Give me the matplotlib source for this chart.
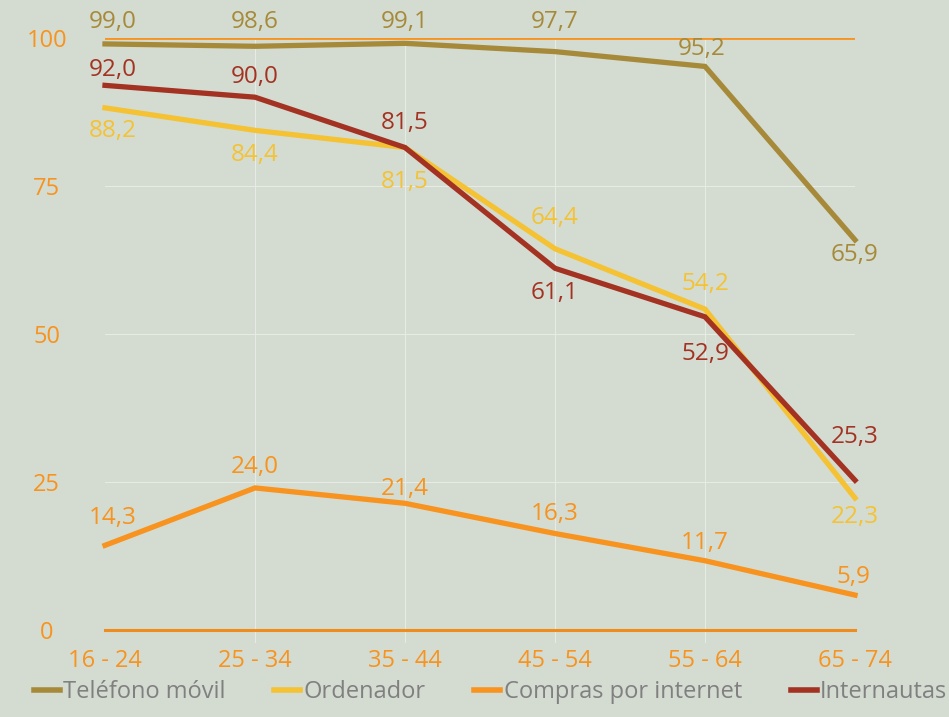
import matplotlib

matplotlib.use("Agg")
import matplotlib.pyplot as plt

# %% Data
grupos = ["16 - 24", "25 - 34", "35 - 44", "45 - 54", "55 - 64", "65 - 74"]
telefono = [99.0, 98.6, 99.1, 97.7, 95.2, 65.9]
ordenador = [88.2, 84.4, 81.5, 64.4, 54.2, 22.3]
compras = [14.3, 24.0, 21.4, 16.3, 11.7, 5.9]
internautas = [92.0, 90.0, 81.5, 61.1, 52.9, 25.3]

BG = "#D4DCD1"
ORANGE = "#F7931E"
C_TEL = "#A68A3A"
C_ORD = "#F4C233"
C_COM = "#F7931E"
C_INT = "#A33222"

# label offsets in pixels (dx, dy) for each point
off_tel = [(8, 22), (0, 24), (0, 21), (0, 30), (-3, 17), (0, -15)]
off_ord = [(8, -23), (0, -25), (0, -34), (0, 31), (0, 25), (0, -19)]
off_int = [(8, 15), (0, 20), (0, 25), (0, -25), (0, -37), (0, 43)]
off_com = [(8, 27), (0, 21), (0, 14), (0, 20), (0, 18), (-2, 18)]

plt.rcParams["font.family"] = ["Open Sans", "DejaVu Sans"]

fig = plt.figure(figsize=(9.49, 7.17), dpi=100, facecolor=BG)
ax = fig.add_axes([105 / 949, 87 / 717, 750 / 949, 592 / 717], facecolor=BG)

x = list(range(len(grupos)))

ax.set_xlim(0, 5)
ax.set_ylim(0, 100)
for s in ax.spines.values():
    s.set_visible(False)

# grid
for yv in [25, 50, 75]:
    ax.axhline(yv, color="#E6EBE3", lw=0.8, zorder=1)
for xv in x[1:-1]:
    ax.axvline(xv, color="#E6EBE3", lw=0.8, zorder=1, ymin=-0.02, clip_on=False)
ax.axhline(100, color=ORANGE, lw=2, zorder=2)
ax.axhline(0, color="#EE8C1E", lw=2.2, zorder=2, clip_on=False)

series = [
    ("Teléfono móvil", telefono, C_TEL, off_tel),
    ("Ordenador", ordenador, C_ORD, off_ord),
    ("Compras por internet", compras, C_COM, off_com),
    ("Internautas", internautas, C_INT, off_int),
]
for i, (name, vals, col, offs) in enumerate(series):
    ax.plot(x, vals, color=col, lw=3.8, label=name, zorder=3 + i, clip_on=False,
            solid_joinstyle="miter")
    for xi, v, (dx, dy) in zip(x, vals, offs):
        ax.annotate(f"{v:.1f}".replace(".", ","), (xi, v), xytext=(dx * 0.72, dy * 0.72),
                    textcoords="offset points", ha="center", va="center",
                    color=col, fontsize=17.5, zorder=10, annotation_clip=False)

ax.set_xticks(x)
ax.set_xticklabels(grupos)
ax.set_yticks([0, 25, 50, 75, 100])
ax.tick_params(axis="both", length=0, colors=ORANGE, labelsize=17)
ax.tick_params(axis="x", pad=14)
ax.tick_params(axis="y", pad=42)
for t in ax.get_yticklabels():
    t.set_horizontalalignment("center")

leg = fig.legend(loc="lower center", bbox_to_anchor=(0.517, -0.012), ncol=4, frameon=False,
                 fontsize=17, handlelength=1.1, handletextpad=0.15, columnspacing=2.05,
                 labelcolor="#808080")
for h in leg.legend_handles:
    h.set_linewidth(4)

fig.savefig("out.png", dpi=100, facecolor=BG)
